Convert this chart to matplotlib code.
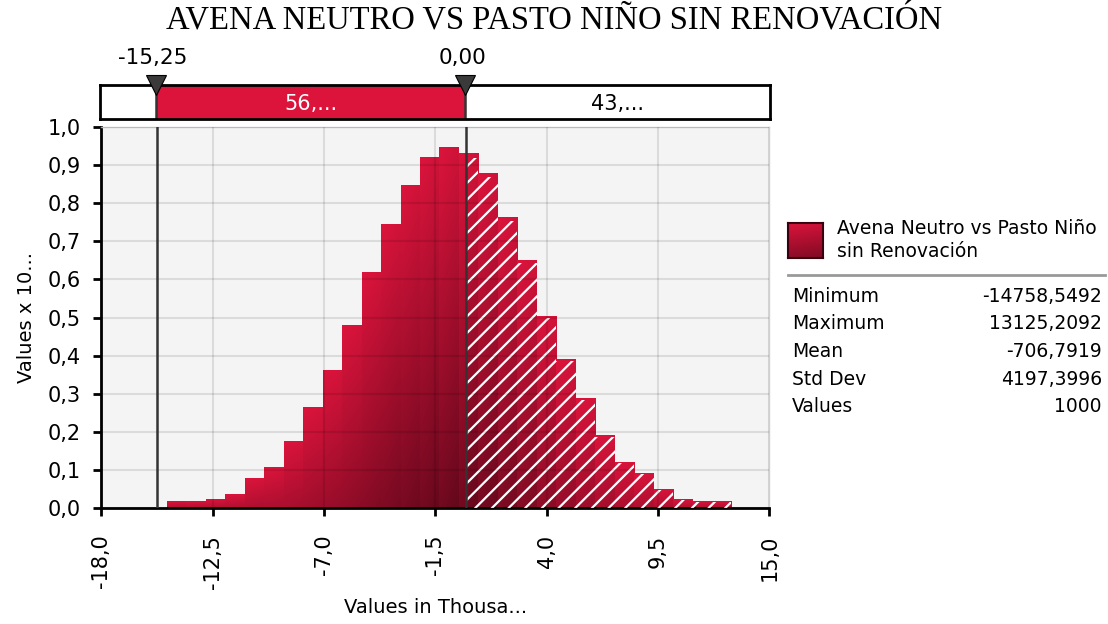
import matplotlib
matplotlib.use("Agg")
import matplotlib.pyplot as plt
import numpy as np
from matplotlib.patches import Rectangle

# Daten (Histogramm, Werte x 10^-4, Klassen zwischen Min und Max)
val_min = -14.7585492
val_max = 13.1252092
heights = [0.017, 0.017, 0.022, 0.035, 0.077, 0.106, 0.174, 0.264, 0.361, 0.478,
           0.617, 0.742, 0.845, 0.918, 0.946, 0.928, 0.876, 0.760, 0.648, 0.503,
           0.389, 0.286, 0.190, 0.119, 0.090, 0.048, 0.022, 0.017, 0.017]
left_mark = -15.25
right_mark = 0.0
band_labels = ["56,...", "43,..."]
x_ticks = [-18.0, -12.5, -7.0, -1.5, 4.0, 9.5, 15.0]
y_ticks = [0.0, 0.1, 0.2, 0.3, 0.4, 0.5, 0.6, 0.7, 0.8, 0.9, 1.0]
stat_names = ["Minimum", "Maximum", "Mean", "Std Dev", "Values"]
stat_values = ["-14758,5492", "13125,2092", "-706,7919", "4197,3996", "1000"]
series_name = "Avena Neutro vs Pasto Niño\nsin Renovación"
title = "AVENA NEUTRO VS PASTO NIÑO SIN RENOVACIÓN"

CRIMSON = np.array([220, 20, 60]) / 255
DARK = np.array([100, 8, 28]) / 255

plt.rcParams["font.family"] = ["DejaVu Sans"]
plt.rcParams["hatch.linewidth"] = 1.6

W, H = 1108, 624
fig = plt.figure(figsize=(W / 100, H / 100), dpi=100)


def px(x0, y0, x1, y1):
    # Pixel-Box -> Figurkoordinaten
    return [x0 / W, 1 - y1 / H, (x1 - x0) / W, (y1 - y0) / H]


ax = fig.add_axes(px(101.4, 126.7, 769.3, 508.3))
ax.set_facecolor("#F4F4F4")

edges = np.linspace(val_min, val_max, len(heights) + 1)
hmax = max(heights)


def gradient(h):
    n = 64
    v = np.linspace(0, 1, n)[:, None]
    u = np.linspace(0, 1, 8)[None, :]
    t = (0.88 * v + 0.12 * u) * (0.35 + 0.65 * h / hmax)
    return CRIMSON[None, None, :] * (1 - t[..., None]) + DARK[None, None, :] * t[..., None]


for i, h in enumerate(heights):
    x0, x1 = edges[i], edges[i + 1]
    ax.imshow(gradient(h), extent=(x0, x1, 0, h), aspect="auto",
              interpolation="bilinear", zorder=2)
    if x1 > right_mark:
        xs = max(x0, right_mark)
        ax.add_patch(Rectangle((xs, 0), x1 - xs, h * 0.99, fill=False, hatch="//",
                               edgecolor="white", linewidth=0, zorder=3))

ax.set_xlim(-18, 15)
ax.set_ylim(0, 1.0)

# Gitter ueber den Balken, halbtransparent
for xt in x_ticks:
    ax.axvline(xt, color="black", alpha=0.1, lw=1.5, zorder=4)
for yt in y_ticks:
    ax.axhline(yt, color="black", alpha=0.1, lw=1.5, zorder=4)

ax.axvline(left_mark, color="#333333", lw=1.8, zorder=5)
ax.axvline(right_mark, color="#333333", lw=1.8, zorder=5)

ax.set_xticks(x_ticks)
ax.set_xticklabels([f"{t:.1f}".replace(".", ",") for t in x_ticks], rotation=90)
ax.set_yticks(y_ticks)
ax.set_yticklabels([f"{t:.1f}".replace(".", ",") for t in y_ticks])
ax.tick_params(labelsize=15, length=6, width=2, color="black")
ax.tick_params(axis="x", pad=13)
ax.tick_params(axis="y", pad=9)
for s in ["left", "bottom"]:
    ax.spines[s].set_linewidth(2)
    ax.spines[s].set_color("black")
for s in ["top", "right"]:
    ax.spines[s].set_linewidth(1)
    ax.spines[s].set_color("#D0D0D0")
ax.set_xlabel("Values in Thousa...", fontsize=14, labelpad=7)
ax.set_ylabel("Values x 10...", fontsize=14, labelpad=8)

# Band oben
band = fig.add_axes(px(100, 85, 770, 119))
band.set_xlim(-18, 15)
band.set_ylim(0, 1)
band.axvspan(left_mark, right_mark, color="#DC143C", lw=0)
band.axvline(left_mark, color="#333333", lw=1.8)
band.axvline(right_mark, color="#333333", lw=1.8)
band.set_xticks([])
band.set_yticks([])
for s in band.spines.values():
    s.set_linewidth(2)
band.text((left_mark + right_mark) / 2, 0.45, band_labels[0], color="white",
          fontsize=15, ha="center", va="center")
band.text((right_mark + 15) / 2, 0.45, band_labels[1], color="black",
          fontsize=15, ha="center", va="center")
for m in [left_mark, right_mark]:
    band.plot([m], [1.0], marker="v", markersize=15, color="#3A3A3A",
              markeredgecolor="black", markeredgewidth=0.8, clip_on=False, zorder=6)
    band.annotate(f"{m:.2f}".replace(".", ","), (m, 1.0), xytext=(-2, 12),
                  textcoords="offset points", ha="center", va="bottom", fontsize=15.5)

fig.text(0.5, 1 - 21 / H, title, ha="center", va="center", fontsize=23.5,
         family="Liberation Serif")

# Legende rechts
sw = fig.add_axes(px(788, 223, 823, 258))
sw.imshow(gradient(0.6), extent=(0, 1, 0, 1), aspect="auto")
sw.set_xticks([])
sw.set_yticks([])
for s in sw.spines.values():
    s.set_color("#3A0010")
    s.set_linewidth(1.5)
fig.text(837 / W, 1 - 240 / H, series_name, fontsize=13.5, va="center",
         linespacing=1.3)
fig.add_artist(plt.Line2D([788 / W, 1105 / W], [1 - 275 / H, 1 - 275 / H],
                          color="#999999", lw=2))
for k, (nm, vl) in enumerate(zip(stat_names, stat_values)):
    yy = 1 - (296 + 27.7 * k) / H
    fig.text(792 / W, yy, nm, fontsize=13.5, va="center")
    fig.text(1102 / W, yy, vl, fontsize=13.5, va="center", ha="right")

fig.savefig("out.png", dpi=100)
